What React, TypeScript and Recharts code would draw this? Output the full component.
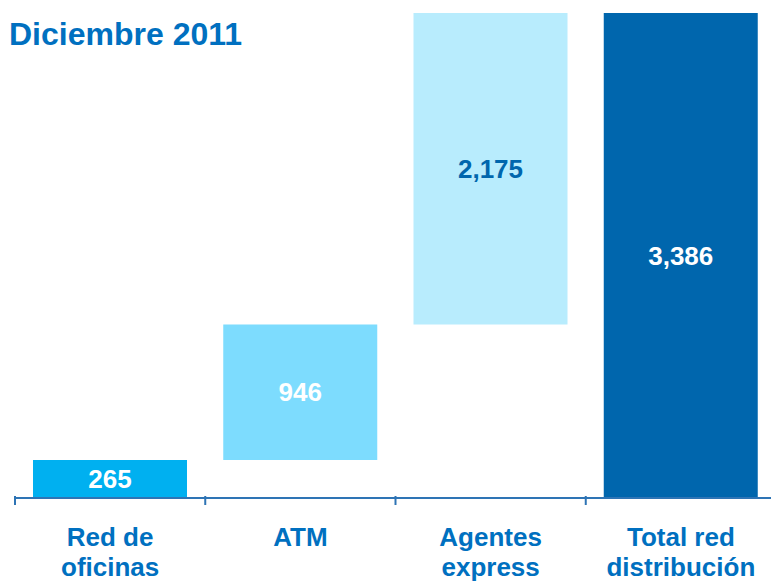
import { BarChart, Bar, XAxis, YAxis, Cell, LabelList } from 'recharts';

const categories = ['Red de oficinas', 'ATM', 'Agentes express', 'Total red distribución'];
const tickLines = [
  ['Red de', 'oficinas'],
  ['ATM'],
  ['Agentes', 'express'],
  ['Total red', 'distribución'],
];
const values = [265, 946, 2175, 3386];
const barColors = ['#00B0F0', '#7DDCFE', '#B8ECFD', '#0066AD'];
const labelColors = ['#FFFFFF', '#FFFFFF', '#0066AD', '#FFFFFF'];

const W = 771;
const H = 581;
const MARGIN = { top: 13, right: -5, bottom: 0, left: 15 };
const band = (W - MARGIN.left - MARGIN.right) / categories.length;
const blue = '#0070C0';
const font = '"Liberation Sans", Arial, sans-serif';

// waterfall: each step sits on the running total, last bar is the total
let running = 0;
const data = categories.map((name, i) => {
  const isTotal = i === categories.length - 1;
  const base = isTotal ? 0 : running;
  if (!isTotal) running += values[i];
  return { name, base, value: values[i] };
});

const CategoryTick = (props: any) => {
  const { x, y, index } = props;
  const lines = tickLines[index] || [];
  return (
    <g>
      <line x1={x - band / 2} x2={x - band / 2} y1={y - 10} y2={y - 1} stroke="#2E74B5" strokeWidth={2} />
      {lines.map((t, i) => (
        <text
          key={i}
          x={x}
          y={y + 40 + i * 30}
          textAnchor="middle"
          fill={blue}
          fontFamily={font}
          fontWeight="bold"
          fontSize={26}
        >
          {t}
        </text>
      ))}
    </g>
  );
};

export default function App() {
  return (
    <div style={{ position: 'absolute', left: 0, top: 0, width: W, height: H, background: '#fff', overflow: 'hidden' }}>
      <div
        style={{
          position: 'absolute',
          left: 9,
          top: 14,
          color: blue,
          fontFamily: font,
          fontWeight: 'bold',
          fontSize: 32,
          lineHeight: '40px',
          zIndex: 2,
        }}
      >
        Diciembre 2011
      </div>
      <BarChart width={W} height={H} data={data} margin={MARGIN} barSize={154}>
        <XAxis
          dataKey="name"
          height={H - 498}
          axisLine={{ stroke: '#2E74B5', strokeWidth: 2 }}
          tickLine={false}
          tick={<CategoryTick />}
          interval={0}
        />
        <YAxis hide domain={[0, 'dataMax']} />
        <Bar dataKey="base" stackId="w" fill="transparent" isAnimationActive={false} />
        <Bar dataKey="value" stackId="w" isAnimationActive={false}>
          {data.map((d, i) => (
            <Cell key={d.name} fill={barColors[i]} />
          ))}
          <LabelList
            dataKey="value"
            position="center"
            content={(p: any) => {
              const { x, y, width, height, value, index } = p;
              return (
                <text
                  x={x + width / 2}
                  y={y + height / 2}
                  dy={9}
                  textAnchor="middle"
                  fill={labelColors[index]}
                  fontFamily={font}
                  fontWeight="bold"
                  fontSize={26}
                >
                  {Number(value).toLocaleString('en-US')}
                </text>
              );
            }}
          />
        </Bar>
      </BarChart>
    </div>
  );
}
